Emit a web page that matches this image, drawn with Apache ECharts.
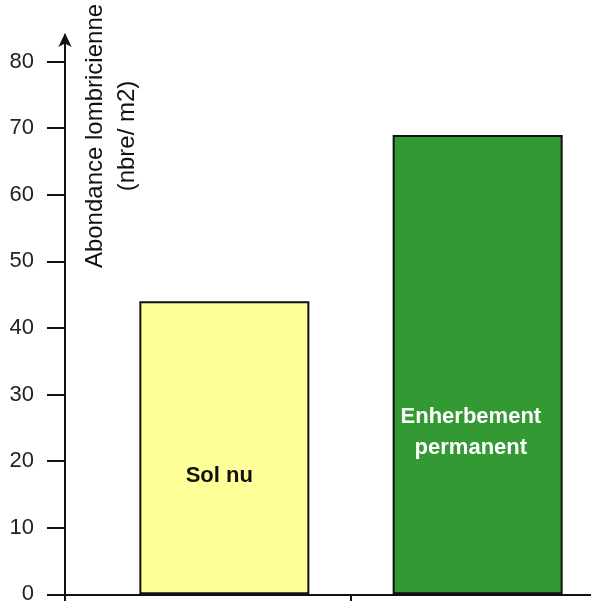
<!DOCTYPE html>
<html>
<head>
<meta charset="utf-8">
<script src="https://cdn.jsdelivr.net/npm/echarts@6/dist/echarts.min.js"></script>
<style>html,body{margin:0;padding:0;background:#fff;}#c{width:591px;height:601px;}</style>
</head>
<body>
<div id="c"></div>
<script>
const categories = [''];
const solNu = [44];
const enherbement = [69];
const yTicks = [0, 10, 20, 30, 40, 50, 60, 70, 80];
const yTitle = 'Abondance lombricienne\n(nbre/ m2)';
const labelSolNu = 'Sol nu';
const labelEnherbement = 'Enherbement\npermanent';

const chart = echarts.init(document.getElementById('c'), null, {renderer: 'canvas'});
const font = '"Liberation Sans", Arial, sans-serif';
chart.setOption({
  animation: false,
  backgroundColor: '#ffffff',
  grid: {left: 65, top: 35, width: 572, bottom: 0, containLabel: false, outerBoundsMode: 'none'},
  xAxis: {
    type: 'category',
    data: categories,
    boundaryGap: true,
    axisLine: {onZero: true, lineStyle: {color: '#111', width: 2}},
    axisTick: {show: true, alignWithLabel: true, length: 9, lineStyle: {color: '#111', width: 2}},
    axisLabel: {show: false},
    splitLine: {show: false}
  },
  yAxis: {
    type: 'value',
    min: -1,
    max: 84,
    interval: 10,
    axisLine: {show: true, onZero: false, lineStyle: {color: '#111', width: 2}, symbol: ['none', 'arrow'], symbolSize: [10, 14], symbolOffset: [0, 2]},
    axisTick: {show: true, length: 18, customValues: yTicks, lineStyle: {color: '#111', width: 2}},
    axisLabel: {customValues: yTicks, margin: 31, color: '#222', fontSize: 22, fontFamily: font},
    splitLine: {show: false}
  },
  series: [
    {
      type: 'bar',
      data: solNu,
      barWidth: 170,
      barGap: '49%',
      itemStyle: {color: '#FFFF99', borderColor: '#111', borderWidth: 2},
      label: {show: true, formatter: labelSolNu, position: ['47%', '59.5%'], align: 'center', verticalAlign: 'middle', color: '#111', fontWeight: 'bold', fontSize: 22, fontFamily: font}
    },
    {
      type: 'bar',
      data: enherbement,
      barWidth: 170,
      barGap: '49%',
      itemStyle: {color: '#339933', borderColor: '#111', borderWidth: 2},
      label: {show: true, formatter: labelEnherbement, position: ['46%', '64.7%'], align: 'center', verticalAlign: 'middle', lineHeight: 31, color: '#fff', fontWeight: 'bold', fontSize: 22, fontFamily: font}
    }
  ],
  graphic: [{
    type: 'text',
    x: 111,
    y: 136,
    rotation: Math.PI / 2,
    style: {text: yTitle, textAlign: 'center', textVerticalAlign: 'middle', font: '24px ' + font, lineHeight: 32, fill: '#111'}
  }]
});
</script>
</body>
</html>
